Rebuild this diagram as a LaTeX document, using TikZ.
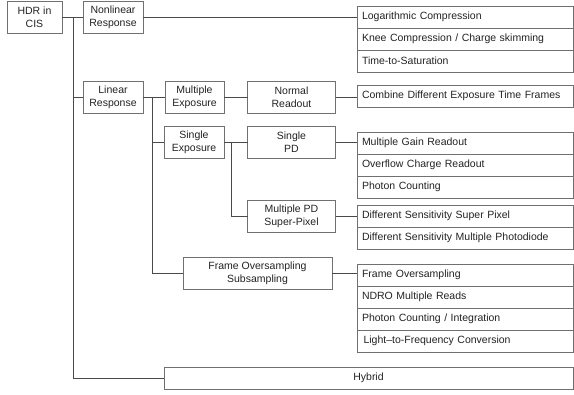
\documentclass[tikz,border=0pt]{standalone}
\usepackage{fontspec}
\setmainfont{Liberation Sans}
\usetikzlibrary{positioning}
\definecolor{linegray}{HTML}{4A4A4A}
\definecolor{boxgray}{HTML}{707070}
\definecolor{textgray}{HTML}{222222}

\begin{document}
\begin{tikzpicture}[
    x=1pt, y=-1pt, line width=0.8pt, font=\fontsize{10.5}{13}\selectfont,
    box/.style={draw=boxgray, text=textgray, align=center, minimum width=#1, minimum height=32pt, inner sep=1pt, outer sep=0pt},
    cell/.style={draw=boxgray, text=textgray, anchor=north west, minimum width=216pt, minimum height=22pt, text width=206pt, inner xsep=5pt, inner ysep=0pt, outer sep=0pt, align=left},
    link/.style={draw=linegray}
]
    \useasboundingbox (0,0) rectangle (574,395);

    % categories
    \node[box=55pt] (hdr) at (34.5,17.5) {HDR in\\CIS};
    \node[box=60pt] (nonlin) at (113,17.5) {Nonlinear\\Response};
    \node[box=60pt] (lin) at (113,97) {Linear\\Response};
    \node[box=59pt] (multexp) at (194.5,97) {Multiple\\Exposure};
    \node[box=88pt] (normal) at (291.5,97) {Normal\\Readout};
    \node[box=60pt] (singexp) at (194,142) {Single\\Exposure};
    \node[box=88pt] (singpd) at (291.5,142) {Single\\PD};
    \node[box=88pt] (multpd) at (291.5,216) {Multiple PD\\Super-Pixel};
    \node[box=149pt] (frame) at (257.5,273) {Frame Oversampling\\Subsampling};
    \node[box=409pt, minimum height=22pt] (hybrid) at (368.5,378) {Hybrid};

    % techniques
    \node[cell] (log) at (357,6) {Logarithmic Compression};
    \node[cell, below=0pt of log] (knee) {Knee Compression / Charge skimming};
    \node[cell, below=0pt of knee] (tts) {Time-to-Saturation};
    \node[cell] (combine) at (357,85) {Combine Different Exposure Time Frames};
    \node[cell] (gain) at (357,132) {Multiple Gain Readout};
    \node[cell, below=0pt of gain] (overflow) {Overflow Charge Readout};
    \node[cell, below=0pt of overflow] (photon) {Photon Counting};
    \node[cell] (superpx) at (357,205) {Different Sensitivity Super Pixel};
    \node[cell, below=0pt of superpx] (multdiode) {Different Sensitivity Multiple Photodiode};
    \node[cell] (fos) at (357,264) {Frame Oversampling};
    \node[cell, below=0pt of fos] (ndro) {NDRO Multiple Reads};
    \node[cell, below=0pt of ndro] (photint) {Photon Counting / Integration};
    \node[cell, below=0pt of photint] (ltf) {\hspace{1.5pt}Light--to-Frequency Conversion};

    % tree
    \draw[link] (hdr) -- (nonlin);
    \draw[link] ([xshift=11pt]hdr.east) |- (lin.west);
    \draw[link] ([xshift=11pt]hdr.east) |- (hybrid.west);
    \draw[link] (nonlin) -- (nonlin -| log.west);
    \draw[link] (lin) -- (multexp);
    \draw[link] ([xshift=9pt]lin.east) |- (singexp.west);
    \draw[link] ([xshift=9pt]lin.east) |- (frame.west);
    \draw[link] (multexp) -- (normal);
    \draw[link] (normal) -- (normal -| combine.west);
    \draw[link] (singexp) -- (singpd);
    \draw[link] ([xshift=7pt]singexp.east) |- (multpd.west);
    \draw[link] (singpd) -- (singpd -| gain.west);
    \draw[link] (multpd) -- (multpd -| superpx.west);
    \draw[link] (frame) -- (frame -| fos.west);
\end{tikzpicture}
\end{document}
